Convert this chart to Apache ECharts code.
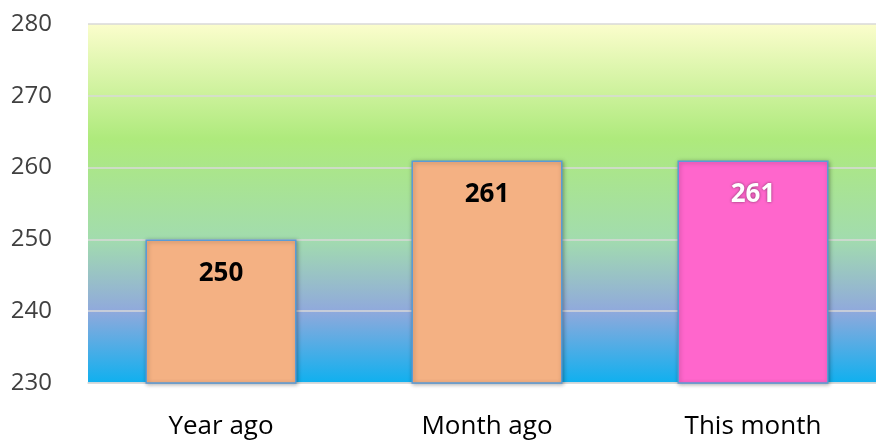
<!DOCTYPE html>
<html><head><meta charset="utf-8">
<script src="https://cdn.jsdelivr.net/npm/echarts@6/dist/echarts.min.js"></script>
<style>html,body{margin:0;padding:0;background:#fff;overflow:hidden;width:876px;height:440px}#c{width:886px;height:440px}</style>
</head><body><div id="c"></div>
<script>
var categories = ['Year ago', 'Month ago', 'This month'];
var values = [250, 261, 261];
var barColors = ['#f4b183', '#f4b183', '#ff66cc'];
var labelColors = ['#000000', '#000000', '#ffffff'];

var chart = echarts.init(document.getElementById('c'));
chart.setOption({
  animation: false,
  grid: {
    left: 88, right: 0, top: 24, bottom: 57,
    show: true, borderWidth: 0,
    backgroundColor: {
      type: 'linear', x: 0, y: 0, x2: 0, y2: 1,
      colorStops: [
        {offset: 0, color: '#fbfdcc'},
        {offset: 0.32, color: '#aeea7c'},
        {offset: 0.6, color: '#a2dcae'},
        {offset: 0.8, color: '#90a9dc'},
        {offset: 1, color: '#0fb0ef'}
      ]
    }
  },
  xAxis: {
    type: 'category', data: categories,
    axisLine: {show: true, lineStyle: {color: '#d9d9d9', width: 1.5}},
    axisTick: {show: false},
    axisLabel: {fontFamily: 'Open Sans', fontSize: 26, color: '#000', margin: 31}
  },
  yAxis: {
    type: 'value', min: 230, max: 280, interval: 10,
    axisLine: {show: false}, axisTick: {show: false},
    axisLabel: {fontFamily: 'Open Sans', fontSize: 24, color: '#404040', margin: 36},
    splitLine: {lineStyle: {color: '#d9d9d9', width: 1.5}}
  },
  series: [{
    type: 'bar', barWidth: 151,
    data: values.map(function (v, i) {
      return {
        value: v,
        itemStyle: {color: barColors[i]},
        label: {color: labelColors[i],
          textShadowColor: i === 2 ? 'rgba(0,0,0,0.5)' : 'transparent',
          textShadowBlur: i === 2 ? 3 : 0}
      };
    }),
    itemStyle: {borderColor: '#5b9bd5', borderWidth: 1.5,
      shadowColor: 'rgba(0,0,0,0.3)', shadowBlur: 4, shadowOffsetX: 1, shadowOffsetY: 1},
    label: {show: true, position: 'insideTop', distance: 21,
      fontFamily: 'Open Sans', fontWeight: 'bold', fontSize: 26}
  }]
});
</script></body></html>
